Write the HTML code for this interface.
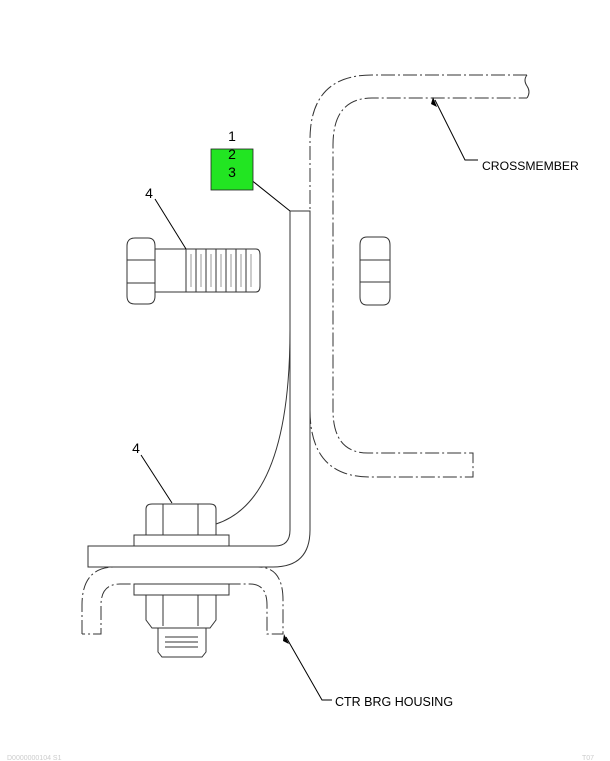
<!DOCTYPE html>
<html><head><style>html,body{margin:0;padding:0;background:#fff}svg{display:block}</style></head>
<body>
<svg width="610" height="761" viewBox="0 0 610 761" xmlns="http://www.w3.org/2000/svg" font-family="Liberation Sans, Arial, sans-serif">
<g fill="none" stroke="#333" stroke-width="1">
<g stroke-dasharray="14,3,2,3">
<path d="M527 75 H372 Q310 75 310 140 V410 Q310 477 370 477 H473 V453 H368 Q333 453 333 410 V145 Q333 98 372 98 H527"/>
</g>
<path d="M527 75 Q523 80 527 86 Q531 92 527 98"/>
<path d="M290 211 H310 V530 Q310 567 273 567 H88 V546 H275 Q290 546 290 530 Z" fill="#fff"/>
<path d="M290 330 Q290 500 216 524"/>
<path d="M127 246 Q127 238 135 238 H148 Q155 238 155 246 V296 Q155 304 148 304 H135 Q127 304 127 296 Z"/>
<path d="M127 260 H155 M127 283 H155"/>
<path d="M155 249 H256 Q260 249 260 255 V286 Q260 292 256 292 H155"/>
<path d="M186 249 V292 M196 249 V292 M206 249 V292 M216 249 V292 M226 249 V292 M236 249 V292 M246 249 V292"/>
<path d="M191 254 V287 M201 254 V287 M211 254 V287 M221 254 V287 M231 254 V287 M241 254 V287 M251 254 V287" stroke="#999"/>
<path d="M360 245 Q360 237 367 237 H383 Q390 237 390 245 V297 Q390 305 383 305 H367 Q360 305 360 297 Z"/>
<path d="M360 260 H390 M360 282 H390"/>
<path d="M146 535 V509 Q146 504 152 504 H210 Q216 504 216 509 V535 M163 504 V535 M198 504 V535"/>
<rect x="134" y="535" width="95" height="11"/>
<rect x="134" y="584" width="95" height="11"/>
<path d="M146 595 V620 L152 628 H210 L216 620 V595 M163 595 V626 M198 595 V626"/>
<path d="M158 628 V652 L162 657 H202 L206 652 V628 M165 637 H198 M165 642 H198 M165 647 H198"/>
<g stroke-dasharray="14,3,2,3">
<path d="M82 634 V605 Q82 567 115 567 H258 Q283 567 283 600 V634 H267 V605 Q267 584 250 584 H120 Q101 584 101 605 V634 H82"/>
</g>
<path d="M240 171 L290 211" stroke="#000"/>
<path d="M155 199 L186 249" stroke="#000"/>
<path d="M141 455 L172 503" stroke="#000"/>
<path d="M435 100 L465 160 H478" stroke="#000"/>
<path d="M286 637 L322 700 H332" stroke="#000"/>
</g>
<path d="M433 97 L437 107 L431 104 Z" fill="#000"/>
<path d="M284 634 L289 644 L283 641 Z" fill="#000"/>
<rect x="211" y="149" width="42" height="41" fill="#22e522" stroke="#222" stroke-width="0.8"/>
<g font-size="14" fill="#000" text-anchor="middle">
<text x="232" y="141">1</text>
<text x="232" y="159">2</text>
<text x="232" y="177">3</text>
<text x="149" y="198">4</text>
<text x="136" y="453">4</text>
</g>
<text x="482" y="170" font-size="12.2" fill="#000">CROSSMEMBER</text>
<text x="335" y="706" font-size="12.5" fill="#000">CTR BRG HOUSING</text>
<text x="7" y="760" font-size="7" fill="#ccc">D0000000104 S1</text>
<text x="582" y="760" font-size="7" fill="#ccc">T07</text>
</svg>
</body></html>
